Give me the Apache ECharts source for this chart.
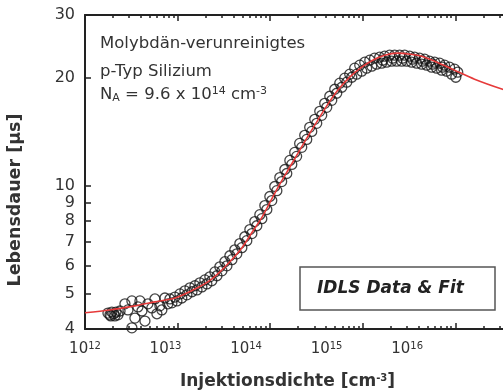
<!DOCTYPE html>
<html>
<head>
<meta charset="utf-8">
<script src="https://cdn.jsdelivr.net/npm/echarts@6/dist/echarts.min.js"></script>
<style>
  html, body { margin: 0; padding: 0; background: #fff; }
  #chart { width: 503px; height: 392px; }
</style>
</head>
<body>
<div id="chart"></div>
<script>
// IDLS measurement (injection density in cm^-3, lifetime in µs)
const injection = [
  1.77e12, 1.86e12, 1.95e12, 2.05e12, 2.16e12, 2.27e12, 2.39e12, 1.90e12, 2.10e12,
  2.70e12, 3.21e12, 3.46e12, 3.21e12, 3.73e12, 4.12e12, 4.44e12, 4.78e12, 5.27e12,
  5.98e12, 6.44e12, 7.29e12, 7.85e12, 2.91e12, 3.92e12, 5.69e12, 6.76e12,
  // band, row 1
  8.26e12, 9.35e12, 1.06e13, 1.20e13, 1.36e13, 1.54e13, 1.74e13, 1.97e13, 2.23e13, 2.53e13,
  2.86e13, 3.24e13, 3.67e13, 4.15e13, 4.70e13, 5.32e13, 6.03e13, 6.82e13, 7.73e13, 8.75e13,
  9.91e13, 1.12e14, 1.27e14, 1.44e14, 1.63e14, 1.84e14, 2.08e14, 2.36e14, 2.67e14, 3.03e14,
  3.43e14, 3.88e14, 4.40e14, 4.98e14, 5.64e14, 6.38e14, 7.23e14, 8.18e14, 9.27e14, 1.05e15,
  1.19e15, 1.34e15, 1.52e15, 1.72e15, 1.95e15, 2.21e15, 2.50e15, 2.83e15, 3.21e15, 3.63e15,
  4.11e15, 4.66e15, 5.27e15, 5.97e15, 6.76e15, 7.64e15, 8.65e15, 9.80e15, 1.06e16,
  // band, row 2
  8.68e12, 9.83e12, 1.11e13, 1.26e13, 1.43e13, 1.62e13, 1.83e13, 2.07e13, 2.34e13, 2.66e13,
  3.01e13, 3.41e13, 3.86e13, 4.36e13, 4.94e13, 5.59e13, 6.34e13, 7.17e13, 8.12e13, 9.20e13,
  1.04e14, 1.18e14, 1.33e14, 1.51e14, 1.71e14, 1.93e14, 2.19e14, 2.48e14, 2.81e14, 3.18e14,
  3.60e14, 4.08e14, 4.62e14, 5.23e14, 5.93e14, 6.71e14, 7.60e14, 8.60e14, 9.74e14, 1.10e15,
  1.25e15, 1.41e15, 1.60e15, 1.81e15, 2.05e15, 2.32e15, 2.63e15, 2.97e15, 3.37e15, 3.82e15,
  4.32e15, 4.90e15, 5.54e15, 6.27e15, 7.10e15, 8.04e15, 9.10e15, 1.01e16,
  // around the maximum
  1.64e15, 2.10e15, 2.69e15, 3.45e15, 4.43e15, 5.68e15, 7.27e15
];
const lifetime = [
  4.43, 4.38, 4.46, 4.41, 4.46, 4.38, 4.49, 4.35, 4.35,
  4.70, 4.79, 4.29, 4.03, 4.61, 4.49, 4.21, 4.70, 4.58,
  4.41, 4.64, 4.88, 4.70, 4.52, 4.79, 4.85, 4.52,
  4.85, 4.91, 5.01, 5.11, 5.21, 5.28, 5.38, 5.48, 5.59, 5.77,
  5.96, 6.16, 6.40, 6.65, 6.92, 7.23, 7.57, 7.97, 8.33, 8.83,
  9.36, 9.98, 10.57, 11.13, 11.80, 12.42, 13.16, 13.86, 14.59, 15.36,
  16.17, 17.02, 17.81, 18.63, 19.37, 20.00, 20.52, 21.33, 21.74, 22.16,
  22.45, 22.74, 22.88, 23.03, 23.18, 23.18, 23.18, 23.18, 23.03, 22.88,
  22.74, 22.59, 22.30, 22.16, 22.02, 21.74, 21.46, 21.19, 20.78,
  4.73, 4.79, 4.88, 4.98, 5.08, 5.14, 5.24, 5.34, 5.45, 5.63,
  5.81, 6.00, 6.24, 6.48, 6.74, 7.05, 7.38, 7.76, 8.12, 8.61,
  9.12, 9.72, 10.30, 10.85, 11.50, 12.11, 12.83, 13.50, 14.21, 14.97,
  15.76, 16.59, 17.35, 18.16, 18.87, 19.49, 20.12, 20.52, 20.92, 21.33,
  21.60, 21.88, 22.02, 22.16, 22.30, 22.30, 22.30, 22.30, 22.16, 22.02,
  21.88, 21.74, 21.46, 21.33, 21.05, 20.92, 20.52, 20.12,
  22.45, 22.74, 22.74, 22.59, 22.30, 21.88, 21.46
];

// fit curve
const fitInjection = [
  1e12, 1.86e12, 3.46e12, 5.69e12, 9.35e12, 1.54e13, 2.12e13, 2.72e13, 3.67e13, 4.94e13,
  6.33e13, 8.11e13, 9.91e13, 1.21e14, 1.55e14, 1.99e14, 2.55e14, 3.26e14, 4.18e14, 5.36e14,
  7.22e14, 9.73e14, 1.28e15, 1.72e15, 2.38e15, 3.21e15, 4.32e15, 5.97e15, 9.80e15, 1.61e16,
  3.23e16, 6.3e16
];
const fitLifetime = [
  4.44, 4.52, 4.64, 4.76, 4.88, 5.17, 5.41, 5.70, 6.16, 6.73,
  7.42, 8.17, 9.00, 9.91, 11.06, 12.34, 13.76, 15.26, 16.91, 18.51,
  20.13, 21.46, 22.45, 23.18, 23.49, 23.33, 23.03, 22.30, 21.05, 19.87,
  18.63, 17.69
];

const yTicks = [4, 5, 6, 7, 8, 9, 10, 20, 30];
const xDecades = [1e12, 1e13, 1e14, 1e15, 1e16, 1e17];
const xLabelExps = [12, 13, 14, 15, 16];

const xMinor = [];
xDecades.slice(0, -1).forEach(d => {
  for (let k = 2; k <= 9; k++) xMinor.push(d * k);
});

const FONT = "DejaVu Sans";
const INK = "#333";

const chart = echarts.init(document.getElementById("chart"));

function logX(position, ticks, len, showLine) {
  return {
    type: "log",
    logBase: 10,
    min: 1e12,
    max: 1e17,
    position: position,
    axisLine: { show: showLine, lineStyle: { color: "#222", width: 2 } },
    axisTick: { show: true, inside: true, length: len, customValues: ticks, lineStyle: { color: "#222", width: 1.5 } },
    axisLabel: { show: false },
    splitLine: { show: false },
    minorTick: { show: false },
  };
}

const option = {
  animation: false,
  backgroundColor: "#fff",
  // plot runs on past the right edge of the picture (up to 1e17)
  grid: { left: 85, top: 15, width: 463, height: 314, containLabel: false, outerBoundsMode: "none" },
  xAxis: [
    logX("bottom", xDecades, 6, true),
    logX("bottom", xMinor, 3, false),
    logX("top", xDecades, 6, true),
    logX("top", xMinor, 3, false),
    {
      // label row of the decades
      type: "value",
      min: 0,
      max: 5.75,
      interval: 1,
      position: "bottom",
      axisLine: { show: false },
      axisTick: { show: false },
      splitLine: { show: false },
      axisLabel: {
        margin: 12,
        formatter: v => (Number.isInteger(v) && xLabelExps.includes(12 + v)) ? `{b|10}{s|${12 + v}}` : "",
        rich: {
          b: { fontFamily: FONT, fontSize: 15, color: INK },
          s: { fontFamily: FONT, fontSize: 10, color: INK, padding: [0, 0, 7, 0] },
        },
      },
      name: "{t|Injektionsdichte [cm}{s|-3}{t|]}",
      nameLocation: "middle",
      nameGap: 44,
      nameTextStyle: {
        padding: [0, 58, 0, 0],
        rich: {
          t: { fontFamily: FONT, fontSize: 17, fontWeight: "bold", color: INK },
          s: { fontFamily: FONT, fontSize: 10, fontWeight: "bold", color: INK, padding: [0, 0, 8, 0] },
        },
      },
    },
  ],
  yAxis: {
    type: "log",
    logBase: 10,
    min: 4,
    max: 30,
    name: "Lebensdauer [µs]",
    nameLocation: "middle",
    nameGap: 61,
    nameTextStyle: { fontFamily: FONT, fontSize: 17.5, fontWeight: "bold", color: INK, padding: [0, 56, 0, 0] },
    axisLine: { show: true, lineStyle: { color: "#222", width: 2 } },
    axisTick: { show: true, inside: true, length: 6, customValues: yTicks, lineStyle: { color: "#222", width: 1.5 } },
    axisLabel: { customValues: yTicks, margin: 10, fontFamily: FONT, fontSize: 16, color: INK },
    splitLine: { show: false },
    minorTick: { show: false },
  },
  series: [
    {
      name: "IDLS Data",
      type: "scatter",
      data: injection.map((x, i) => [x, lifetime[i]]),
      symbol: "circle",
      symbolSize: 10,
      itemStyle: { color: "rgba(255,255,255,0)", borderColor: "#151515", borderWidth: 1.3 },
      z: 2,
    },
    {
      name: "Fit",
      type: "line",
      data: fitInjection.map((x, i) => [x, fitLifetime[i]]),
      smooth: 0.3,
      showSymbol: false,
      lineStyle: { color: "#e63a3a", width: 1.6 },
      z: 3,
    },
  ],
  graphic: [
    {
      type: "text", x: 100, y: 44,
      style: { text: "Molybdän-verunreinigtes", font: `16.5px "${FONT}"`, fill: INK, verticalAlign: "middle" },
    },
    {
      type: "text", x: 100, y: 72,
      style: { text: "p-Typ Silizium", font: `16.5px "${FONT}"`, fill: INK, verticalAlign: "middle" },
    },
    {
      type: "text", x: 100, y: 95,
      style: {
        text: "{n|N}{a|A}{n| = 9.6 x 10}{p|14}{n| cm}{p|-3}",
        verticalAlign: "middle",
        rich: {
          n: { fontFamily: FONT, fontSize: 16.5, fill: INK },
          a: { fontFamily: FONT, fontSize: 11, fill: INK, padding: [6, 0, 0, 0] },
          p: { fontFamily: FONT, fontSize: 11, fill: INK, padding: [0, 0, 8, 0] },
        },
      },
    },
    {
      type: "rect", z: 10,
      shape: { x: 300, y: 267, width: 195, height: 43 },
      style: { fill: "#fff", stroke: "#555", lineWidth: 1.5 },
    },
    {
      type: "text", x: 317, y: 289, z: 11,
      style: { text: "IDLS Data & Fit", font: `italic bold 17px "${FONT}"`, fill: "#222", verticalAlign: "middle" },
    },
  ],
};

chart.setOption(option);
</script>
</body>
</html>
